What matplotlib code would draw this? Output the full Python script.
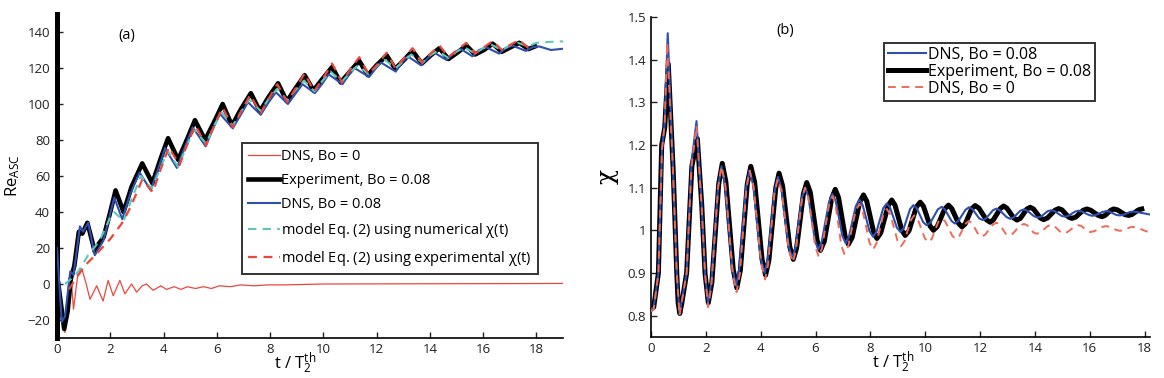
import matplotlib
matplotlib.use("Agg")
import matplotlib.pyplot as plt

plt.rcParams['font.family'] = ['Open Sans', 'DejaVu Sans']
plt.rcParams['mathtext.fontset'] = 'custom'
plt.rcParams['mathtext.rm'] = 'Open Sans'
plt.rcParams['mathtext.it'] = 'Open Sans'

# ---------------- panel (a) data ----------------
t_exp_a = [0.05, 0.27, 0.4, 0.52, 0.65, 0.82, 0.95, 1.14, 1.42, 1.55, 1.75, 2.0, 2.2, 2.5, 2.8, 3.2,
           3.58, 3.9, 4.17, 4.55, 4.9, 5.18, 5.56, 5.9, 6.22, 6.57, 6.9, 7.28, 7.62, 7.95, 8.3, 8.63,
           8.97, 9.3, 9.63, 9.97, 10.33, 10.65, 11.0, 11.35, 11.67, 12.0, 12.38, 12.7, 13.03, 13.35,
           13.7, 14.03, 14.36, 14.7, 15.03, 15.37, 15.7, 16.03, 16.36, 16.7, 17.03, 17.36, 17.7, 17.95]
re_exp_a = [0, -25, -15, 3, 10, 29, 28, 34, 18, 22, 26, 40, 52, 40, 54, 67,
            56, 70, 81, 69, 81, 91, 80, 90, 100, 88, 97, 106, 96, 104, 111.5, 101.5,
            109, 116, 107.5, 114, 120.5, 112, 118, 124, 116, 121.5, 127, 119.5, 124.5, 129.5,
            122.5, 127, 131, 125, 128.5, 132.5, 127.5, 130, 133.5, 129, 131.5, 134, 130.5, 132]

t_dns_a = [0.0, 0.18, 0.3, 0.5, 0.62, 0.86, 0.98, 1.17, 1.42, 1.74, 2.15, 2.45, 2.75, 3.1, 3.52, 3.8,
           4.06, 4.5, 4.8, 5.1, 5.58, 5.85, 6.12, 6.6, 6.9, 7.17, 7.65, 7.95, 8.22, 8.67, 8.97, 9.22,
           9.68, 9.95, 10.2, 10.72, 10.95, 11.17, 11.72, 11.95, 12.17, 12.72, 12.95, 13.17, 13.67,
           13.95, 14.17, 14.62, 14.9, 15.17, 15.6, 15.85, 16.12, 16.6, 16.85, 17.1, 17.6, 17.85,
           18.1, 18.55, 19.0]
re_dns_a = [20, -21, -18, 7, 5, 32, 29, 34, 16, 24, 48, 36, 50, 62, 52, 64,
            75.5, 64.5, 76, 87, 76.5, 86, 94.5, 86.5, 94, 101, 94, 101, 106.5, 100, 106, 111,
            106, 111, 116.5, 111, 116, 120, 115, 119.5, 123, 118, 123, 126.5, 121.5,
            126, 128.5, 124.5, 128.5, 130.5, 126.5, 130, 131.5, 128, 131, 132.5, 129.5, 131.5,
            132, 130, 130.7]

t_dns0_a = [0.0, 0.3, 0.45, 0.52, 0.62, 0.78, 0.93, 1.08, 1.24, 1.49, 1.73, 1.92, 2.11, 2.36, 2.55,
            2.8, 2.99, 3.2, 3.36, 3.61, 3.9, 4.11, 4.4, 4.65, 4.9, 5.2, 5.5, 5.8, 6.1, 6.5, 6.9,
            7.4, 7.9, 8.5, 10.0, 19.0]
re_dns0_a = [0, -27, 2, 5, -14, 5, 8.5, 1, -8.5, -1, -9.5, 2, -6.5, 2, -5.5,
             0, -4.5, -1, 0, -3.5, -1, -3, -1.5, -3, -1.5, -2.5, -1.5, -2.5, -1, -1.5, -0.5,
             -1, -0.5, -0.5, 0, 0.3]

t_mnum_a = [0.3, 0.55, 0.8, 1.17, 1.6, 2.0, 2.15, 2.5, 2.8, 3.15, 3.55, 3.85, 4.15, 4.55, 4.85,
            5.15, 5.6, 5.9, 6.18, 6.6, 6.92, 7.22, 7.65, 7.95, 8.27, 8.65, 8.97, 9.27, 9.67, 9.97,
            10.27, 10.7, 11.0, 11.3, 11.7, 12.0, 12.3, 12.72, 13.02, 13.3, 13.72, 14.0, 14.3, 14.7,
            15.0, 15.3, 15.7, 16.0, 16.3, 16.7, 17.0, 17.3, 17.7, 18.0, 18.5, 19.0]
re_mnum_a = [0, 3, 7, 16, 24, 37, 40, 35, 47, 60, 53, 63, 74, 65, 76,
             86, 78, 88, 95.5, 88, 96, 102.5, 96, 103, 108.5, 102, 108, 113, 107, 113,
             118, 112.5, 117.5, 121.5, 116.5, 121, 124.5, 120, 124, 127.5, 123, 127, 129.5, 125.5,
             129, 131.5, 128, 131, 133, 130, 132.5, 134, 132, 134, 134.5, 134.8]

t_mexp_a = [0.45, 0.7, 1.1, 1.5, 2.0, 2.5, 2.8, 3.2, 3.6, 3.9, 4.2, 4.6, 4.9, 5.2, 5.6, 5.9, 6.22,
            6.6, 6.92, 7.25, 7.65, 7.95, 8.27, 8.65, 8.97, 9.3, 9.65, 9.98, 10.33, 10.7, 11.0,
            11.35, 11.7, 12.03, 12.38, 12.7, 13.03, 13.35, 13.7, 14.03, 14.36, 14.7, 15.03, 15.37,
            15.7, 16.03, 16.36, 16.7, 17.03, 17.36, 17.7, 17.9]
re_mexp_a = [-3, 3, 11, 17, 25, 35, 44, 58, 51, 64, 76, 66, 78, 88, 77, 88, 98,
             87, 96, 105, 95, 103, 111, 101, 109, 117, 107, 114, 122.5, 112, 119,
             126, 116.5, 122, 128.5, 120, 125.5, 131, 123, 128, 132.5, 126, 130, 134,
             128, 131.5, 135, 130, 133, 135.5, 131, 133]

# ---------------- panel (b) data ----------------
t_dns_b = [0, 0.1, 0.27, 0.4, 0.5, 0.61, 0.8, 0.94, 1.04, 1.3, 1.48, 1.66, 1.85, 1.97,
           2.08, 2.2, 2.45, 2.57, 2.70, 2.97, 3.1, 3.22, 3.47, 3.6, 3.73, 4.0, 4.14, 4.26, 4.51,
           4.63, 4.76, 5.02, 5.15, 5.27, 5.5, 5.62, 5.74, 5.98, 6.1, 6.23, 6.49, 6.62, 6.74, 6.98,
           7.1, 7.22, 7.47, 7.6, 7.72, 7.97, 8.1, 8.22, 8.47, 8.6, 8.72, 8.97, 9.1, 9.22, 9.45,
           9.57, 9.69, 9.93, 10.05, 10.19, 10.46, 10.6, 10.72, 10.96, 11.08, 11.21, 11.47, 11.6,
           11.72, 11.97, 12.1, 12.22, 12.47, 12.6, 12.72, 12.97, 13.1, 13.22, 13.47, 13.6, 13.72,
           13.97, 14.1, 14.22, 14.47, 14.6, 14.72, 14.97, 15.1, 15.22, 15.47, 15.6, 15.72, 15.97,
           16.1, 16.22, 16.47, 16.6, 16.72, 16.97, 17.1, 17.22, 17.47, 17.6, 17.8, 18.2]
chi_dns_b = [0.815, 0.82, 0.9, 1.19, 1.25, 1.462, 1.15, 0.9, 0.805, 0.9, 1.16, 1.256, 1.06, 0.9,
             0.83, 0.877, 1.103, 1.15, 1.109, 0.911, 0.87, 0.909, 1.101, 1.14, 1.105, 0.935, 0.9,
             0.933, 1.092, 1.125, 1.097, 0.963, 0.935, 0.959, 1.076, 1.1, 1.079, 0.976, 0.955,
             0.974, 1.066, 1.085, 1.068, 0.987, 0.97, 0.985, 1.057, 1.072, 1.059, 0.998, 0.985,
             0.996, 1.052, 1.063, 1.053, 1.006, 0.996, 1.005, 1.05, 1.059, 1.052, 1.019, 1.012,
             1.018, 1.049, 1.055, 1.049, 1.022, 1.016, 1.022, 1.048, 1.054, 1.05, 1.028, 1.024,
             1.028, 1.047, 1.051, 1.047, 1.031, 1.027, 1.03, 1.046, 1.049, 1.046, 1.033, 1.03,
             1.032, 1.045, 1.047, 1.045, 1.034, 1.032, 1.034, 1.044, 1.046, 1.044, 1.036, 1.034,
             1.036, 1.043, 1.045, 1.044, 1.036, 1.035, 1.036, 1.043, 1.044, 1.042, 1.037]

t_exp_b = [0, 0.1, 0.27, 0.39, 0.5, 0.63, 0.81, 0.94, 0.99, 1.05, 1.12, 1.3, 1.49, 1.69, 1.85,
           1.97, 2.09, 2.22, 2.47, 2.6, 2.73, 3.0, 3.13, 3.26, 3.51, 3.64, 3.78, 4.05, 4.18, 4.3,
           4.55, 4.67, 4.8, 5.06, 5.19, 5.31, 5.56, 5.68, 5.81, 6.06, 6.18, 6.32, 6.59, 6.72, 6.84,
           7.08, 7.2, 7.34, 7.61, 7.75, 7.87, 8.12, 8.24, 8.38, 8.65, 8.78, 8.9, 9.15, 9.27, 9.41,
           9.68, 9.82, 9.94, 10.18, 10.3, 10.44, 10.71, 10.85, 10.97, 11.22, 11.34, 11.46, 11.7,
           11.82, 11.96, 12.23, 12.37, 12.49, 12.74, 12.86, 12.98, 13.23, 13.35, 13.47, 13.71,
           13.83, 13.95, 14.2, 14.32, 14.46, 14.73, 14.87, 14.99, 15.23, 15.35, 15.49, 15.76,
           15.9, 16.04, 16.31, 16.45, 16.56, 16.77, 16.87, 17.01, 17.28, 17.42, 17.54, 17.78, 17.9]
chi_exp_b = [0.815, 0.82, 0.9, 1.2, 1.24, 1.39, 1.14, 0.9, 0.83, 0.805, 0.828, 0.9, 1.15, 1.215,
             1.06, 0.9, 0.83, 0.878, 1.109, 1.157, 1.114, 0.908, 0.865, 0.907, 1.108, 1.15, 1.113,
             0.932, 0.895, 0.93, 1.099, 1.134, 1.104, 0.962, 0.932, 0.958, 1.086, 1.112, 1.089,
             0.976, 0.953, 0.974, 1.075, 1.096, 1.077, 0.986, 0.967, 0.984, 1.066, 1.083, 1.068,
             0.996, 0.981, 0.994, 1.058, 1.071, 1.059, 1.0, 0.988, 0.999, 1.055, 1.066, 1.056,
             1.01, 1.0, 1.009, 1.05, 1.059, 1.051, 1.016, 1.008, 1.015, 1.051, 1.058, 1.052, 1.025,
             1.019, 1.025, 1.051, 1.057, 1.052, 1.029, 1.024, 1.028, 1.05, 1.054, 1.05, 1.029,
             1.025, 1.029, 1.047, 1.051, 1.048, 1.031, 1.028, 1.031, 1.047, 1.05, 1.047, 1.035,
             1.032, 1.035, 1.047, 1.05, 1.048, 1.037, 1.035, 1.037, 1.048, 1.05]

t_dns0_b = [0, 0.1, 0.27, 0.4, 0.5, 0.59, 0.8, 0.94, 1.04, 1.3, 1.48, 1.66, 1.85, 1.97,
            2.08, 2.2, 2.45, 2.57, 2.71, 2.98, 3.12, 3.24, 3.48, 3.6, 3.74, 4.02, 4.16, 4.27, 4.5,
            4.62, 4.76, 5.03, 5.17, 5.28, 5.51, 5.62, 5.74, 5.99, 6.12, 6.24, 6.49, 6.62, 6.73,
            6.94, 7.05, 7.19, 7.46, 7.6, 7.72, 7.97, 8.1, 8.22, 8.47, 8.6, 8.73, 8.99, 9.12, 9.24,
            9.48, 9.6, 9.73, 9.99, 10.12, 10.24, 10.48, 10.6, 10.73, 10.99, 11.12, 11.24, 11.48,
            11.6, 11.71, 11.94, 12.05, 12.19, 12.46, 12.6, 12.71, 12.94, 13.05, 13.19, 13.46, 13.6,
            13.72, 13.95, 14.07, 14.2, 14.47, 14.6, 14.71, 14.94, 15.05, 15.19, 15.46, 15.6, 15.7,
            15.92, 16.02, 16.17, 16.46, 16.6, 16.72, 16.97, 17.1, 17.22, 17.47, 17.6, 17.75, 18.05,
            18.2]
chi_dns0_b = [0.81, 0.815, 0.9, 1.19, 1.25, 1.44, 1.14, 0.9, 0.8, 0.9, 1.15, 1.245, 1.05, 0.9,
              0.82, 0.868, 1.102, 1.15, 1.107, 0.898, 0.855, 0.897, 1.098, 1.14, 1.103, 0.922,
              0.885, 0.919, 1.086, 1.12, 1.092, 0.953, 0.925, 0.951, 1.074, 1.1, 1.076, 0.962,
              0.938, 0.959, 1.059, 1.08, 1.06, 0.965, 0.945, 0.962, 1.045, 1.062, 1.046, 0.971,
              0.955, 0.969, 1.036, 1.05, 1.037, 0.976, 0.963, 0.974, 1.024, 1.035, 1.026, 0.981,
              0.972, 0.98, 1.02, 1.028, 1.021, 0.987, 0.98, 0.986, 1.016, 1.022, 1.017, 0.99,
              0.985, 0.99, 1.013, 1.018, 1.014, 0.992, 0.988, 0.992, 1.011, 1.015, 1.012, 0.995,
              0.992, 0.995, 1.01, 1.013, 1.01, 0.996, 0.993, 0.996, 1.009, 1.012, 1.01, 0.998,
              0.996, 0.998, 1.008, 1.01, 1.008, 1.001, 0.999, 1.0, 1.007, 1.008, 1.006, 0.998,
              0.996]

xticks_a = [0, 2, 4, 6, 8, 10, 12, 14, 16, 18]
yticks_a = [-20, 0, 20, 40, 60, 80, 100, 120, 140]
xticks_b = [0, 2, 4, 6, 8, 10, 12, 14, 16, 18]
yticks_b = [0.8, 0.9, 1.0, 1.1, 1.2, 1.3, 1.4, 1.5]
yticklabels_b = ['0.8', '0.9', '1', '1.1', '1.2', '1.3', '1.4', '1.5']

RED = '#e8483e'
BLUE = '#2e4fae'
CYAN = '#5cc9b8'
RED_B = '#f06a5a'

W, H = 1164, 378
fig = plt.figure(figsize=(W / 100, H / 100), dpi=100)

axa = fig.add_axes([57 / W, 1 - 338 / H, (563 - 57) / W, (338 - 14) / H])
axb = fig.add_axes([651 / W, 1 - 337 / H, (1150 - 651) / W, (337 - 17) / H])

for ax in (axa, axb):
    ax.spines['top'].set_visible(False)
    ax.spines['right'].set_visible(False)
    ax.tick_params(direction='in', length=4, width=1, labelsize=9.5, colors='#222222')
    ax.spines['bottom'].set_linewidth(1.2)
    ax.spines['left'].set_linewidth(1.2)

# panel (a)
axa.plot(t_dns0_a, re_dns0_a, color=RED, lw=0.9, label='DNS, Bo = 0', zorder=2)
axa.plot(t_exp_a, re_exp_a, color='black', lw=3.3, label='Experiment, Bo = 0.08', zorder=3)
axa.plot(t_dns_a, re_dns_a, color=BLUE, lw=1.5, label='DNS, Bo = 0.08', zorder=4)
axa.plot(t_mnum_a, re_mnum_a, color=CYAN, lw=1.5, ls=(0, (4, 3)),
         label=r'model Eq. (2) using numerical $\chi$(t)', zorder=5)
axa.plot(t_mexp_a, re_mexp_a, color=RED, lw=1.6, ls=(0, (4, 3)),
         label=r'model Eq. (2) using experimental $\chi$(t)', zorder=6)
axa.set_xlim(0, 19)
axa.set_ylim(-30, 150)
axa.set_xticks(xticks_a)
axa.set_yticks(yticks_a)
axa.spines['left'].set_linewidth(3.6)
axa.tick_params(axis='y', pad=5)
axa.set_ylabel(r'Re$_{\mathrm{ASC}}$', fontsize=12, labelpad=4)
axa.set_xlabel(r't / T$_2^{\mathrm{th}}$', fontsize=12)
axa.xaxis.set_label_coords(0.47, -0.04)
axa.text(2.3, 138, '(a)', fontsize=10.5, ha='left', va='center')
leg_a = axa.legend(loc='upper left', bbox_to_anchor=(242 / W, 1 - 143 / H),
                   bbox_transform=fig.transFigure, fontsize=10.5, frameon=True, fancybox=False,
                   handlelength=2.2, handletextpad=0.1, labelspacing=0.62, borderpad=0.4,
                   borderaxespad=0)
leg_a.get_frame().set_edgecolor('black')
leg_a.get_frame().set_linewidth(1.4)

# panel (b)
axb.plot(t_dns_b, chi_dns_b, color=BLUE, lw=1.5, label='DNS, Bo = 0.08', zorder=3)
axb.plot(t_exp_b, chi_exp_b, color='black', lw=3.6, label='Experiment, Bo = 0.08', zorder=2)
axb.plot(t_dns0_b, chi_dns0_b, color=RED_B, lw=1.4, ls=(0, (4, 3)), label='DNS, Bo = 0', zorder=4)
axb.set_xlim(0, 18.2)
axb.set_ylim(0.75, 1.5)
axb.set_xticks(xticks_b)
axb.set_yticks(yticks_b)
axb.set_yticklabels(yticklabels_b)
axb.set_ylabel('χ', fontsize=18, family='DejaVu Serif', labelpad=6)
axb.set_xlabel(r't / T$_2^{\mathrm{th}}$', fontsize=12)
axb.xaxis.set_label_coords(0.485, -0.04)
axb.text(4.9, 1.468, '(b)', fontsize=10.5, ha='center', va='center')
leg_b = axb.legend(loc='upper left', bbox_to_anchor=(884 / W, 1 - 43 / H),
                   bbox_transform=fig.transFigure, fontsize=11.5, frameon=True, fancybox=False,
                   handlelength=2.4, handletextpad=0.1, labelspacing=0.05, borderpad=0.25,
                   borderaxespad=0)
leg_b.get_frame().set_edgecolor('black')
leg_b.get_frame().set_linewidth(1.4)

fig.savefig('out.png', dpi=100)
